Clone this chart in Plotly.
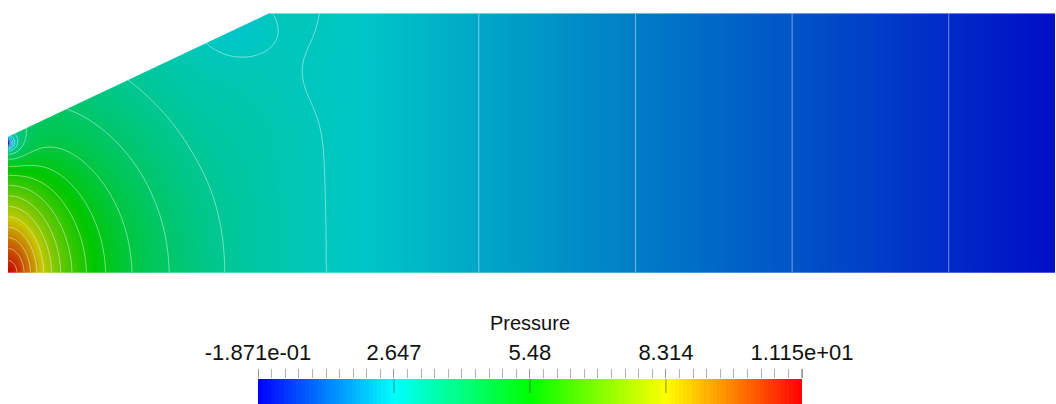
import colorsys
import numpy as np
import plotly.graph_objects as go

# ---- geometry of the flow domain (length units) ----
outline_x = [0.0, 4.0, 4.0, 1.0, 0.0]      # bottom wall, outlet, top wall, diffuser wall, inlet
outline_y = [0.0, 0.0, 1.0, 1.0, 0.5]

# ---- pressure solution summary ----
pressure_range = [-0.1871, 11.15]
tick_values = [-0.1871, 2.647, 5.48, 8.314, 11.15]
tick_labels = ["-1.871e-01", "2.647", "5.48", "8.314", "1.115e+01"]
n_contours = 20
outlet_pressure = 0.005
channel_gradient = 0.997                   # pressure drop per unit length in the straight channel
radial_zone = [0.7, 1.05]                  # isobars are arcs round the jet corner up to here

# inlet jet corner at (0, 0): core amplitude, core size, core aspect, tail amplitude, tail length, tail aspect
jet_core = [4.0, 0.157, 2.2]
jet_tail = [1.2, 0.45, 1.6]
jet_reach = 1.0                            # beyond this distance the jet no longer matters
# inlet lip corner at (0, 0.5): tight spot size, spot decay, broad share, broad length
lip_spot = [0.012, 0.12]
lip_broad = [0.25, 0.16]
# low-pressure spots just past the diffuser exit: x, y, width, depth
exit_pocket = [0.90, 0.95, 0.10, 0.35]
exit_trough = [1.08, 0.75, 0.12, 0.08]

pmin, pmax = pressure_range
L = outline_x[1]
lip_y = outline_y[4]
G = channel_gradient


def smoothstep(t):
    t = np.clip(t, 0.0, 1.0)
    return t * t * (3.0 - 2.0 * t)


def base_pressure(x, y):
    r = np.sqrt(x ** 2 + y ** 2)
    w = smoothstep((radial_zone[1] - x) / (radial_zone[1] - radial_zone[0]))
    s = x + (r - x) * w                     # radial distance in the diffuser, axial in the channel
    rc = np.minimum(r, 1.0)
    bump = G * (4.0 / (1.0 + rc) ** 2 - 2.0 + rc)   # extra loss through the widening section
    return outlet_pressure + G * (L - s) + bump


def jet_term(x, y):
    amp, size, aspect = jet_core
    r = np.sqrt(x ** 2 + y ** 2)
    cutoff = np.exp(-(r / jet_reach) ** 4)
    core = amp / (1.0 + (x ** 2 + (y / aspect) ** 2) / size ** 2)
    tail = jet_tail[0] * np.exp(-np.sqrt(x ** 2 + (y / jet_tail[2]) ** 2) / jet_tail[1])
    return (core + tail) * cutoff


def lip_shape(x, y):
    r = np.sqrt(x ** 2 + (y - lip_y) ** 2)
    spot = lip_spot[0] / np.sqrt(r ** 2 + lip_spot[0] ** 2) * np.exp(-r / lip_spot[1])
    broad = np.exp(-r / lip_broad[1])
    return (1.0 - lip_broad[0]) * spot + lip_broad[0] * broad


def dip(x, y, spec):
    cx, cy, width, depth = spec
    return depth * np.exp(-((x - cx) ** 2 + (y - cy) ** 2) / (2 * width ** 2))


def pressure(x, y):
    jet_scale = (pmax - base_pressure(0.0, 0.0)) / jet_term(0.0, 0.0)
    p = base_pressure(x, y) + jet_scale * jet_term(x, y)
    lip_val = base_pressure(0.0, lip_y) + jet_scale * jet_term(0.0, lip_y)
    p = p - (lip_val - pmin) * lip_shape(x, y)
    p = p - dip(x, y, exit_pocket) - dip(x, y, exit_trough)
    return p


# sample grid, one cell per screen pixel
nx, ny = 1047, 260
xs = (np.arange(nx) + 0.5) * L / nx
ys = (np.arange(ny) + 0.5) * outline_y[2] / ny
X, Y = np.meshgrid(xs, ys)
P = pressure(X, Y)


def rainbow(n, value=1.0):
    stops = []
    for i in range(n):
        t = i / (n - 1)
        r, g, b = colorsys.hsv_to_rgb((240.0 - 240.0 * t) / 360.0, 1.0, value)
        stops.append([t, f"rgb({r*255:.0f},{g*255:.0f},{b*255:.0f})"])
    return stops


field_scale = rainbow(33, 0.78)
bar_scale = rainbow(33, 1.0)

fig = go.Figure()
fig.add_trace(go.Heatmap(
    x=xs, y=ys, z=P, zmin=pmin, zmax=pmax, colorscale=field_scale,
    showscale=False, hoverinfo="skip", xaxis="x", yaxis="y"))

step = (pmax - pmin) / (n_contours - 1)
fig.add_trace(go.Contour(
    x=xs, y=ys, z=P, showscale=False, hoverinfo="skip",
    contours=dict(coloring="none", start=pmin + step, end=pmax - step / 2, size=step),
    line=dict(color="rgba(255,255,255,0.5)", width=1, smoothing=0),
    xaxis="x", yaxis="y"))

# faint outline along the straight walls
fig.add_trace(go.Scatter(
    x=[outline_x[3], outline_x[2]], y=[outline_y[3] - 0.002, outline_y[2] - 0.002], mode="lines",
    line=dict(color="rgba(255,255,255,0.45)", width=1), hoverinfo="skip",
    xaxis="x", yaxis="y", cliponaxis=False))
fig.add_trace(go.Scatter(
    x=[outline_x[0], outline_x[1]], y=[outline_y[0] + 0.002, outline_y[1] + 0.002], mode="lines",
    line=dict(color="rgba(255,255,255,0.3)", width=1), hoverinfo="skip",
    xaxis="x", yaxis="y", cliponaxis=False))

# colour legend bar
n_bands = 128
band_w = (pmax - pmin) / n_bands
band_centers = pmin + band_w * (np.arange(n_bands) + 0.5)
fig.add_trace(go.Heatmap(
    x=band_centers, y0=0.5, dy=1.0, z=[band_centers], zmin=pmin, zmax=pmax,
    colorscale=bar_scale, showscale=False, hoverinfo="skip", xaxis="x2", yaxis="y2"))

shapes = [
    # region outside the diffuser wall
    dict(type="path", xref="x", yref="y", layer="above",
         path=f"M {outline_x[4]-0.05},{outline_y[4]} L {outline_x[3]},{outline_y[3]} "
              f"L {outline_x[3]},{outline_y[3]+0.05} L {outline_x[4]-0.05},{outline_y[3]+0.05} Z",
         fillcolor="white", line=dict(width=0)),
]
for tv in tick_values[1:-1]:
    shapes.append(dict(type="line", xref="x2", yref="y2", x0=tv, x1=tv, y0=0.44, y1=1.0,
                       line=dict(color="rgba(70,70,70,0.6)", width=1), layer="above"))

W, H = 1056, 404
ml, mr = 8, 1
pw = W - ml - mr
fig.update_layout(
    width=W, height=H, margin=dict(l=ml, r=mr, t=0, b=0, autoexpand=False),
    paper_bgcolor="white", plot_bgcolor="white", showlegend=False,
    font=dict(family="Liberation Sans, Arial, sans-serif", size=20, color="#111111"),
    xaxis=dict(domain=[0, 1], range=[0, L], visible=False, fixedrange=True, automargin=False),
    yaxis=dict(domain=[(H - 273) / H, (H - 13) / H], range=[0, 1], visible=False,
               fixedrange=True, automargin=False),
    xaxis2=dict(domain=[(258 - ml) / pw, (802 - ml) / pw], range=[pmin, pmax], anchor="y2",
                side="top", showgrid=False, zeroline=False, showline=False, automargin=False,
                tickmode="array", tickvals=tick_values, ticktext=tick_labels,
                ticks="outside", ticklen=9, tickcolor="#9a9a9a", tickwidth=1,
                tickfont=dict(size=22, color="#111111"),
                minor=dict(tickmode="linear", tick0=pmin, dtick=(tick_values[1] - pmin) / 10,
                           ticks="outside", ticklen=9, tickcolor="#b0b0b0", tickwidth=1),
                fixedrange=True),
    yaxis2=dict(domain=[0, 25 / H], range=[0, 1], visible=False, fixedrange=True, automargin=False),
    shapes=shapes,
    annotations=[dict(text="Pressure", xref="paper", yref="paper",
                      x=(530 - ml) / pw, y=(H - 323) / H, xanchor="center", yanchor="middle",
                      showarrow=False, font=dict(size=20, color="#111111"))],
)

fig.write_html("out.html")
